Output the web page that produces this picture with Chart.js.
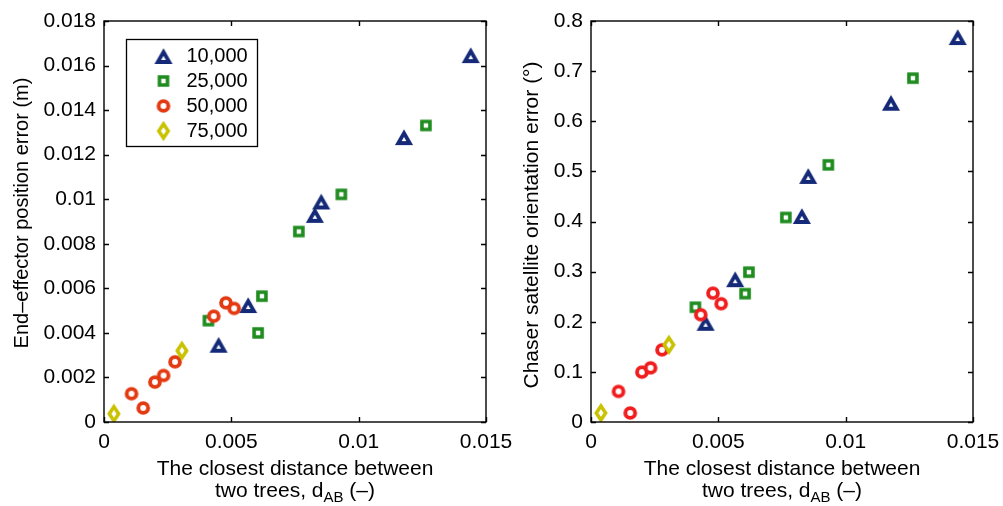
<!DOCTYPE html>
<html>
<head>
<meta charset="utf-8">
<title>Tree distance vs. error</title>
<script src="https://cdn.jsdelivr.net/npm/chart.js@4.4.1/dist/chart.umd.min.js"></script>
<style>
  html, body { margin: 0; padding: 0; background: #fff; }
  #wrap { position: relative; width: 1003px; height: 506px; overflow: hidden; background: #fff; }
  #posChart { position: absolute; left: 0; top: 0; }
  #oriChart { position: absolute; left: 500px; top: 0; }
</style>
</head>
<body>
<div id="wrap">
  <canvas id="posChart" width="530" height="506"></canvas>
  <canvas id="oriChart" width="503" height="506"></canvas>
</div>
<script>
// number of trees in each run
const seriesLabels = ["10,000", "25,000", "50,000", "75,000"];

// closest distance between the two trees, d_AB (-)
const dist10k = [0.0045, 0.00566, 0.00828, 0.00853, 0.01178, 0.0144];
const dist25k = [0.0041, 0.00605, 0.0062, 0.00765, 0.00932, 0.01264];
const dist50k = [0.00108, 0.00154, 0.002, 0.00234, 0.00279, 0.00431, 0.00479, 0.00511];
const dist75k = [0.00039, 0.00306];

// end-effector position error (m)
const posErr10k = [0.00347, 0.00525, 0.0093, 0.0099, 0.01279, 0.01647];
const posErr25k = [0.00455, 0.004, 0.00565, 0.00855, 0.01022, 0.01331];
const posErr50k = [0.00127, 0.00063, 0.00179, 0.00209, 0.0027, 0.00475, 0.00535, 0.0051];
const posErr75k = [0.00037, 0.0032];

// chaser satellite orientation error (deg)
const oriErr10k = [0.198, 0.285, 0.411, 0.491, 0.637, 0.768];
const oriErr25k = [0.229, 0.256, 0.299, 0.408, 0.513, 0.686];
const oriErr50k = [0.061, 0.018, 0.0996, 0.108, 0.144, 0.214, 0.257, 0.236];
const oriErr75k = [0.018, 0.154];

// axis ticks
const xTicks = [0, 0.005, 0.01, 0.015];
const posTicks = [0, 0.002, 0.004, 0.006, 0.008, 0.01, 0.012, 0.014, 0.016, 0.018];
const oriTicks = [0, 0.1, 0.2, 0.3, 0.4, 0.5, 0.6, 0.7, 0.8];

const FONT = "'Liberation Sans', Arial, Helvetica, sans-serif";

// hollow markers drawn once on small canvases, used as pointStyle
function makeMarker(shape, color) {
    const c = document.createElement("canvas");
    c.width = 24;
    c.height = 24;
    const g = c.getContext("2d");
    g.translate(12, 12);
    g.strokeStyle = color;
    g.fillStyle = "#fff";
    g.lineJoin = "miter";
    g.beginPath();
    if (shape === "triangle") {
        const s = 11.5, h = s * 0.866;
        g.lineWidth = 3.8;
        g.moveTo(0, -h / 2 + 1);
        g.lineTo(s / 2, h / 2 + 1);
        g.lineTo(-s / 2, h / 2 + 1);
        g.closePath();
    } else if (shape === "square") {
        g.lineWidth = 3.6;
        g.rect(-4, -4, 8, 8);
    } else if (shape === "circle") {
        g.lineWidth = 3.9;
        g.arc(0, 0, 4.9, 0, Math.PI * 2);
    } else {
        g.lineWidth = 3.5;
        g.moveTo(0, -7);
        g.lineTo(4.7, 0);
        g.lineTo(0, 7);
        g.lineTo(-4.7, 0);
        g.closePath();
    }
    g.fill();
    g.stroke();
    return c;
}

function toPoints(xs, ys) {
    return xs.map((x, i) => ({ x: x, y: ys[i] }));
}

function fmt(v) {
    return String(+Number(v).toFixed(4));
}

// frame around the plot area with inward tick marks on all four sides
const frameBox = {
    id: "frameBox",
    afterDraw(chart) {
        const { ctx, chartArea: a, scales } = chart;
        const len = 5;
        ctx.save();
        ctx.strokeStyle = "#000";
        ctx.lineWidth = 1.4;
        ctx.beginPath();
        scales.x.ticks.forEach(t => {
            const px = Math.round(scales.x.getPixelForValue(t.value)) + 0.5;
            ctx.moveTo(px, a.bottom); ctx.lineTo(px, a.bottom - len);
            ctx.moveTo(px, a.top); ctx.lineTo(px, a.top + len);
        });
        scales.y.ticks.forEach(t => {
            const py = Math.round(scales.y.getPixelForValue(t.value)) + 0.5;
            ctx.moveTo(a.left, py); ctx.lineTo(a.left + len, py);
            ctx.moveTo(a.right, py); ctx.lineTo(a.right - len, py);
        });
        ctx.stroke();
        ctx.strokeRect(a.left, a.top, a.right - a.left, a.bottom - a.top);
        ctx.restore();
    }
};

// axis titles: rotated y title and two-line x title with the AB subscript
const axisTitles = {
    id: "axisTitles",
    afterDraw(chart, args, opts) {
        const { ctx, chartArea: a } = chart;
        const cx = (a.left + a.right) / 2;
        const big = "21px " + FONT, small = "15px " + FONT;
        ctx.save();
        ctx.fillStyle = "#000";

        ctx.save();
        ctx.translate(opts.yTitleX, opts.yTitleY);
        ctx.rotate(-Math.PI / 2);
        ctx.font = opts.yTitleSize + "px " + FONT;
        ctx.textAlign = "center";
        ctx.textBaseline = "middle";
        ctx.fillText(opts.yTitle, 0, 0);
        ctx.restore();

        ctx.textBaseline = "alphabetic";
        ctx.font = big;
        ctx.textAlign = "center";
        ctx.fillText("The closest distance between", cx, a.bottom + 53);

        const p1 = "two trees, d", sub = "AB", p2 = " (\u2013)";
        ctx.textAlign = "left";
        const w1 = ctx.measureText(p1).width, w3 = ctx.measureText(p2).width;
        ctx.font = small;
        const w2 = ctx.measureText(sub).width;
        let x = cx - (w1 + w2 + w3) / 2;
        const base = a.bottom + 75;
        ctx.font = big;
        ctx.fillText(p1, x, base);
        x += w1;
        ctx.font = small;
        ctx.fillText(sub, x, base + 5);
        x += w2;
        ctx.font = big;
        ctx.fillText(p2, x, base);
        ctx.restore();
    }
};

// legend box in the upper-left of the position chart
const legendBox = {
    id: "legendBox",
    afterDraw(chart) {
        if (chart.canvas.id !== "posChart") return;
        const { ctx, chartArea: a } = chart;
        const left = a.left + 22.5, top = a.top + 18.5;
        ctx.save();
        ctx.fillStyle = "#fff";
        ctx.fillRect(left, top, 131, 107);
        ctx.strokeStyle = "#000";
        ctx.lineWidth = 1.3;
        ctx.strokeRect(left, top, 131, 107);
        ctx.font = "20px " + FONT;
        ctx.fillStyle = "#000";
        ctx.textBaseline = "middle";
        ctx.textAlign = "left";
        chart.data.datasets.forEach((ds, i) => {
            const yy = top + 16 + 25 * i;
            const m = ds.pointStyle;
            ctx.drawImage(m, left + 37 - m.width / 2, Math.round(yy - m.height / 2));
            ctx.fillText(ds.label, left + 60, yy + 1);
        });
        ctx.restore();
    }
};

function buildChart(canvasId, titleOpts, errs, yTicks, yMax, yWidth, padRight, redColor) {
    const shapes = ["triangle", "square", "circle", "diamond"];
    const colors = ["#142a78", "#1f8c1f", redColor, "#c9c200"];
    const xs = [dist10k, dist25k, dist50k, dist75k];
    const datasets = seriesLabels.map((label, i) => ({
        label: label,
        data: toPoints(xs[i], errs[i]),
        pointStyle: makeMarker(shapes[i], colors[i]),
        pointRadius: 8,
        borderColor: colors[i],
        backgroundColor: colors[i],
        order: 3 - i
    }));

    return new Chart(document.getElementById(canvasId), {
        type: "scatter",
        data: { datasets: datasets },
        options: {
            responsive: false,
            devicePixelRatio: 1,
            animation: false,
            events: [],
            layout: { padding: { left: 0, right: padRight, top: 21, bottom: 0 } },
            plugins: {
                legend: { display: false },
                tooltip: { enabled: false },
                axisTitles: titleOpts
            },
            scales: {
                x: {
                    type: "linear",
                    min: 0,
                    max: 0.015,
                    afterBuildTicks: s => { s.ticks = xTicks.map(v => ({ value: v })); },
                    afterFit: s => { s.height = 84; s.paddingLeft = 0; s.paddingRight = 0; },
                    grid: { display: false, drawTicks: false },
                    border: { display: false },
                    ticks: {
                        padding: 8,
                        maxRotation: 0,
                        color: "#000",
                        font: { family: FONT, size: 21 },
                        callback: v => fmt(v)
                    }
                },
                y: {
                    type: "linear",
                    min: 0,
                    max: yMax,
                    afterBuildTicks: s => { s.ticks = yTicks.map(v => ({ value: v })); },
                    afterFit: s => { s.width = yWidth; s.paddingTop = 0; s.paddingBottom = 0; },
                    grid: { display: false, drawTicks: false },
                    border: { display: false },
                    ticks: {
                        padding: 8,
                        color: "#000",
                        font: { family: FONT, size: 21 },
                        callback: v => fmt(v)
                    }
                }
            }
        },
        plugins: [frameBox, axisTitles, legendBox]
    });
}

buildChart("posChart",
    { yTitle: "End\u2013effector position error (m)", yTitleX: 22, yTitleY: 213, yTitleSize: 20 },
    [posErr10k, posErr25k, posErr50k, posErr75k], posTicks, 0.018, 104, 44, "#e33a12");

buildChart("oriChart",
    { yTitle: "Chaser satellite orientation error (\u00b0)", yTitleX: 32, yTitleY: 225, yTitleSize: 21 },
    [oriErr10k, oriErr25k, oriErr50k, oriErr75k], oriTicks, 0.8, 91, 30, "#f01e1e");
</script>
</body>
</html>
